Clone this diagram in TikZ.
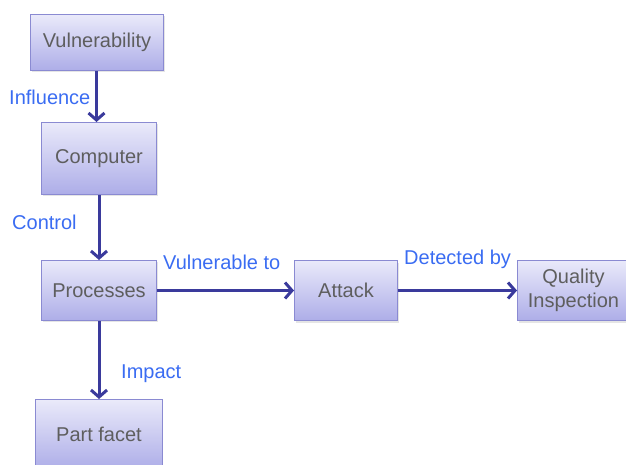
\documentclass[tikz,border=0pt]{standalone}
\usepackage{fontspec}
\setmainfont{Liberation Sans}
\usetikzlibrary{arrows.meta}
\definecolor{boxtop}{HTML}{EAEAFA}
\definecolor{boxbot}{HTML}{ADADE8}
\definecolor{boxline}{HTML}{8A8AD2}
\definecolor{boxtext}{HTML}{5E5E5E}
\definecolor{arrowcol}{HTML}{3A3A9C}
\definecolor{labelcol}{HTML}{3A6CF2}
\tikzset{
  box/.style={draw=boxline, line width=1pt, top color=boxtop, bottom color=boxbot,
    text=boxtext, font=\fontsize{20}{23.5}\selectfont, align=center,
    inner sep=0pt, anchor=north west},
  conn/.style={draw=arrowcol, line width=3pt, -{Straight Barb[length=7pt,width=16pt,line width=3pt]}},
  lbl/.style={text=labelcol, font=\fontsize{20}{23.5}\selectfont, inner sep=0pt}
}
\begin{document}
\begin{tikzpicture}[x=1pt,y=-1pt]
\useasboundingbox (0,0) rectangle (626,464);
\clip (0,0) rectangle (626,464);
% shadows
\fill[black!10] (32,16) rectangle (165,72);
\fill[black!10] (43,124) rectangle (158,196);
\fill[black!10] (43,262) rectangle (158,322);
\fill[black!10] (296,263) rectangle (399,323);
\fill[black!10] (519,263) rectangle (630,323);
% boxes
\node[box, minimum width=133pt, minimum height=56pt] (vul) at (30,14) {Vulnerability};
\node[box, minimum width=115pt, minimum height=72pt] (comp) at (41,122) {Computer};
\node[box, minimum width=115pt, minimum height=60pt] (proc) at (41,260) {Processes};
\node[box, minimum width=103pt, minimum height=60pt] (att) at (294,260) {Attack};
\node[box, minimum width=112pt, minimum height=60pt] (qi) at (517,260) {Quality\\Inspection};
\node[box, minimum width=127pt, minimum height=70pt] (part) at (35,399) {Part facet};
% connectors
\draw[conn] ([xshift=-0.5pt]vul.south) -- ([xshift=-2.5pt]comp.north);
\draw[conn] (comp.south) -- (proc.north);
\draw[conn] (proc.east) -- (att.west);
\draw[conn] (att.east) -- (qi.west);
\draw[conn] (proc.south) -- (part.north -| proc.south);
% labels
\node[lbl, anchor=west] (l1) at (9,97) {Influence};
\node[lbl, anchor=west] (l2) at (12,222) {Control};
\node[lbl, anchor=west] (l3) at (163,262) {Vulnerable to};
\node[lbl, anchor=west] (l4) at (404,259) {Detected by};
\node[lbl, anchor=west] (l5) at (121,374) {Impact};
\end{tikzpicture}
\end{document}
